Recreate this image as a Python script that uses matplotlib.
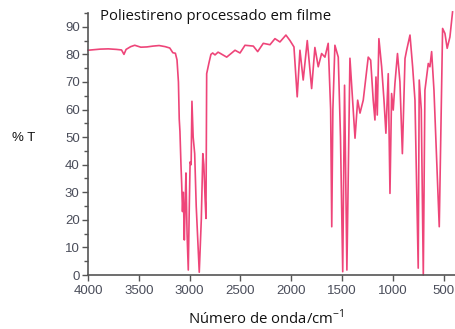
import matplotlib

matplotlib.use("Agg")
import matplotlib.pyplot as plt
from matplotlib.ticker import MultipleLocator

# IR spectrum of polystyrene film: wavenumber (cm-1) vs transmittance (%)
wavenumber = [
    4000, 3940, 3880, 3800, 3720, 3670, 3646, 3625, 3580, 3540, 3480, 3420,
    3360, 3300, 3240, 3195, 3165, 3140, 3124, 3110, 3102, 3095, 3085, 3078,
    3070, 3062, 3052, 3044, 3036, 3025, 3013, 3003, 2995, 2985, 2977, 2965,
    2950, 2935, 2905, 2885, 2870, 2860, 2848, 2839, 2832, 2809, 2790, 2773,
    2750, 2720, 2700, 2635, 2553, 2504, 2455, 2373, 2330, 2275, 2209, 2160,
    2111, 2052, 2012, 1973, 1941, 1914, 1882, 1842, 1799, 1767, 1734, 1701,
    1668, 1636, 1612, 1601, 1590, 1570, 1537, 1515, 1493, 1475, 1452, 1422,
    1372, 1346, 1323, 1291, 1242, 1218, 1193, 1176, 1166, 1153, 1137, 1110,
    1087, 1068, 1045, 1028, 1012, 996, 979, 954, 930, 906, 880, 864,
    831, 805, 782, 750, 740, 720, 700, 684, 651, 635, 618, 595,
    543, 510, 487, 465, 438, 412,
]
transmittance = [
    81.5, 81.7, 81.9, 82.0, 81.8, 81.6, 80.0, 81.8, 82.8, 83.3, 82.6, 82.7,
    83.0, 83.2, 82.8, 82.3, 80.6, 80.4, 78.0, 70.0, 56.5, 52.0, 40.0, 33.0,
    23.0, 30.0, 12.7, 25.0, 37.0, 15.0, 1.8, 25.0, 41.0, 40.0, 63.0, 50.0,
    44.0, 25.0, 1.0, 20.0, 44.0, 40.0, 28.0, 20.5, 73.0, 77.0, 80.0, 80.5,
    79.8, 80.8, 80.4, 79.0, 81.5, 80.5, 83.3, 83.0, 81.0, 84.0, 83.5, 85.7,
    84.5, 87.0, 85.0, 82.7, 64.6, 81.5, 70.7, 85.0, 67.6, 82.5, 75.5, 80.3,
    79.0, 84.0, 60.0, 17.5, 60.0, 83.3, 79.0, 50.0, 1.2, 68.8, 1.8, 78.6,
    49.6, 63.4, 58.7, 63.4, 79.0, 77.9, 63.4, 56.2, 71.8, 58.0, 85.7, 75.5,
    63.4, 51.4, 73.0, 29.6, 65.8, 59.8, 69.5, 80.3, 70.0, 44.0, 78.5, 81.5,
    87.0, 75.5, 63.4, 2.5, 70.7, 60.0, 0.0, 67.0, 76.7, 75.5, 81.0, 67.0,
    17.5, 89.4, 87.6, 82.2, 86.3, 95.4,
]

x_ticks = [4000, 3500, 3000, 2500, 2000, 1500, 1000, 500]
y_ticks = [0, 10, 20, 30, 40, 50, 60, 70, 80, 90]

W, H = 455, 329
fig = plt.figure(figsize=(W / 100, H / 100), dpi=100)
ax = fig.add_axes([88 / W, 54 / H, 1 - 88 / W, 262 / H])

ax.plot(wavenumber, transmittance, color="#ee4579", linewidth=1.2, clip_on=False)

ax.set_xlim(4000, 388)
ax.set_ylim(0, 95)
ax.set_xticks(x_ticks)
ax.set_yticks(y_ticks)
ax.yaxis.set_minor_locator(MultipleLocator(5))

for side in ("top", "right"):
    ax.spines[side].set_visible(False)
for side in ("left", "bottom"):
    ax.spines[side].set_color("#555555")
    ax.spines[side].set_linewidth(1.2)

ax.tick_params(axis="both", which="major", length=4, width=1.0, color="#555555",
               labelsize=9.5, labelcolor="#4a4d5a", pad=2)
ax.tick_params(axis="x", which="major", pad=3)
ax.tick_params(axis="y", which="minor", length=3, width=1.0, color="#555555")
for lab in ax.get_xticklabels() + ax.get_yticklabels():
    lab.set_family("Liberation Sans")

fig.text(100 / W, 1 - 17 / H, "Poliestireno processado em filme", family="Open Sans",
         fontsize=10.7, va="center", ha="left", color="#111111")
fig.text(12 / W, 1 - 138 / H, "% T", family="Liberation Sans", fontsize=9.5,
         va="center", ha="left", color="#111111")
fig.text(266 / W, 1 - 318 / H, r"Número de onda/cm$^{\mathregular{-1}}$", family="Open Sans",
         fontsize=10.7, va="center", ha="center", color="#111111")

fig.savefig("out.png", dpi=100)
